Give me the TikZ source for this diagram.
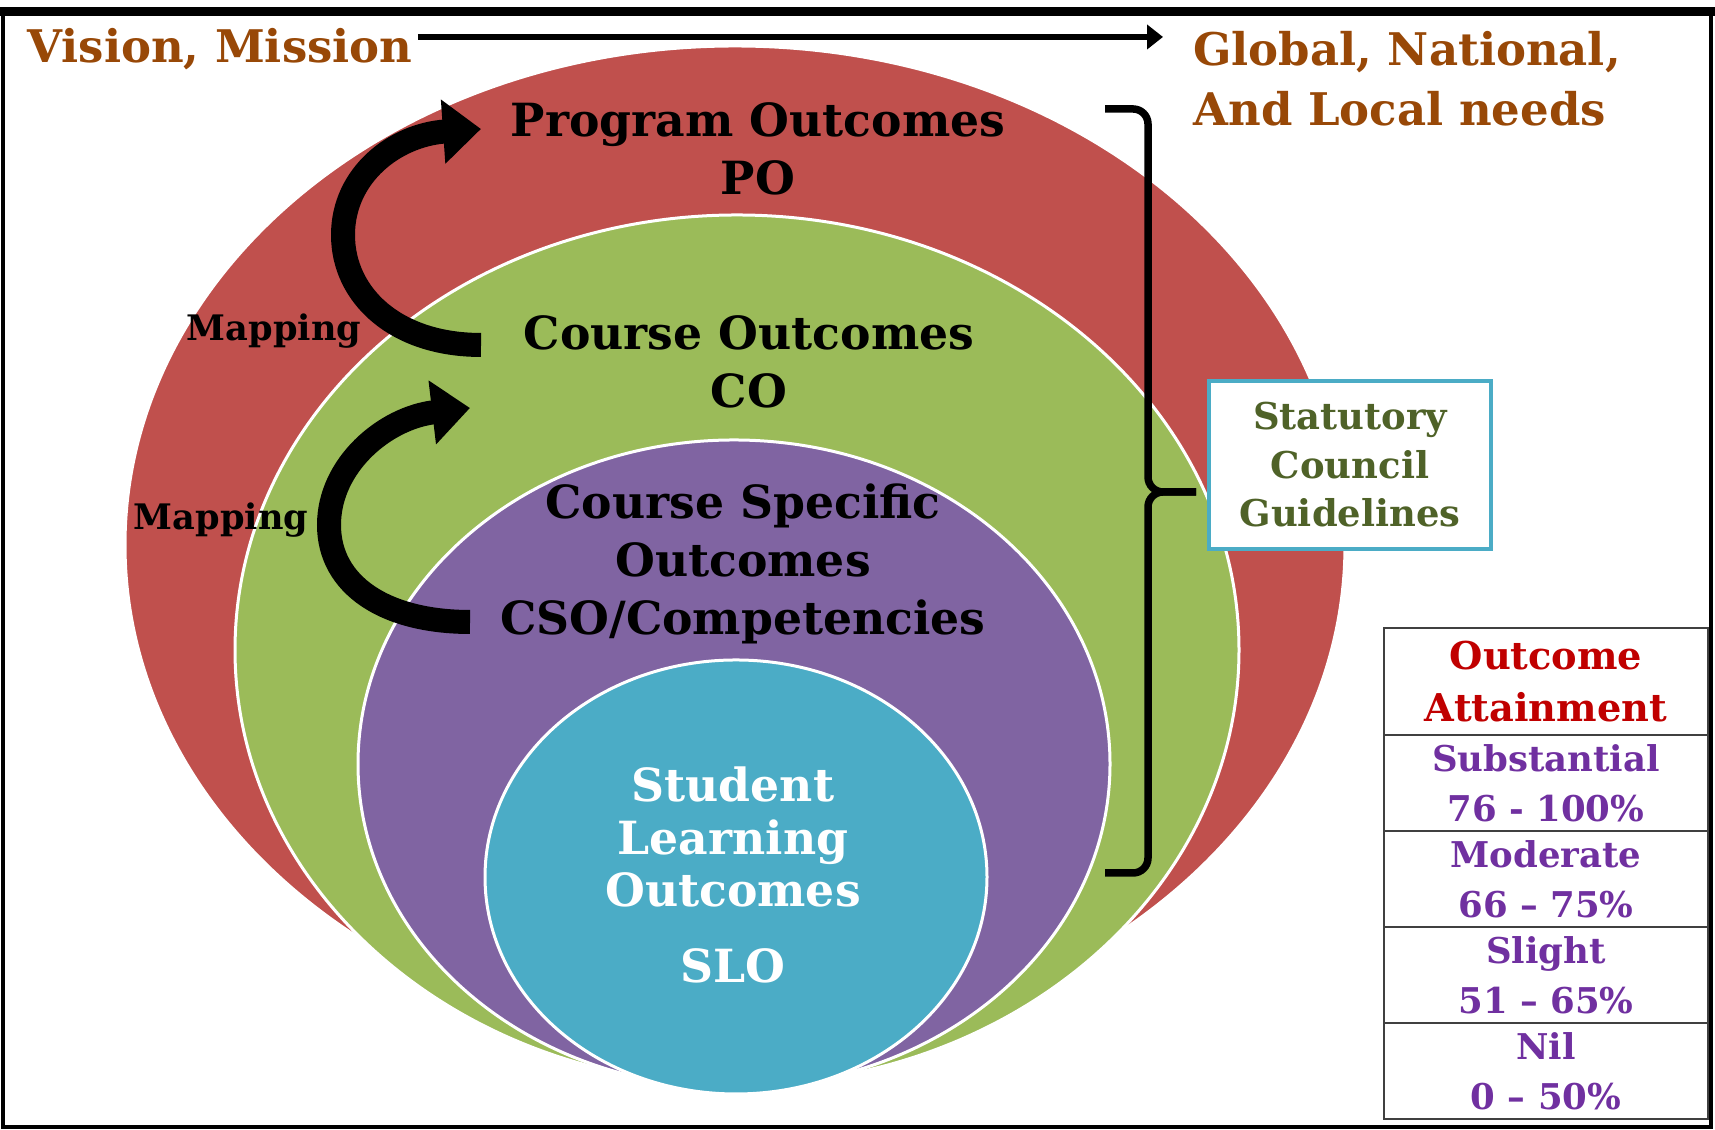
\documentclass[tikz,border=0pt]{standalone}
\usepackage{fontspec}
\setmainfont{DejaVu Serif}
\usetikzlibrary{arrows.meta,positioning}

\definecolor{rossoPO}{HTML}{C0504D}
\definecolor{verdeCO}{HTML}{9BBB59}
\definecolor{violaCSO}{HTML}{8064A2}
\definecolor{azzurroSLO}{HTML}{4BACC6}
\definecolor{marrone}{HTML}{984807}
\definecolor{oliva}{HTML}{4F6228}
\definecolor{rossoscuro}{HTML}{C00000}
\definecolor{violatesto}{HTML}{7030A0}

\begin{document}
\begin{tikzpicture}[>={Triangle[length=1.6mm,width=2.4mm]},
    anello/.style={draw=white, line width=0.3mm},
    titolo/.style={font=\bfseries\fontsize{13}{16.5}\selectfont, align=center},
    bordo/.style={text=marrone, font=\bfseries\fontsize{12.8}{17}\selectfont},
    mappa/.style={font=\bfseries\fontsize{10}{11}\selectfont},
    freccia/.style={line width=2.4mm, -{Triangle[length=3.8mm,width=6.2mm]}},
    graffa/.style={line width=0.75mm, rounded corners=1.5mm},
    cella/.style={draw=black!75, line width=0.2mm, outer sep=0pt, inner sep=0pt,
      minimum width=3.24cm, minimum height=0.96cm, align=center,
      text=violatesto, font=\bfseries\fontsize{10.1}{14.3}\selectfont}]

    % --- Impostazioni ---
    \useasboundingbox (0,0) rectangle (17.15,11.30);

    % --- Ellissi annidate ---
    \filldraw[anello, fill=rossoPO]    (7.35,5.85) ellipse (6.10 and 4.99);
    \filldraw[anello, fill=verdeCO]    (7.37,4.80) ellipse (5.02 and 4.35);
    \filldraw[anello, fill=violaCSO]   (7.34,3.66) ellipse (3.76 and 3.24);
    \filldraw[anello, fill=azzurroSLO] (7.36,2.53) ellipse (2.51 and 2.17);

    % --- Testi delle ellissi ---
    \node[titolo] (po)  at (7.58,9.81) {Program Outcomes\\PO};
    \node[titolo] (co)  at (7.49,7.68) {Course Outcomes\\CO};
    \node[titolo] (cso) at (7.43,5.66) {Course Specific\\Outcomes\\CSO/Competencies};
    \node[titolo, text=white, font=\bfseries\fontsize{13}{15}\selectfont] (slo) at (7.33,2.55)
          {Student\\Learning\\Outcomes\\[2.3mm]SLO};

    % --- Frecce di mapping ---
    \node[mappa] (map1) at (2.74,7.99) {Mapping};
    \node[mappa] (map2) at (2.21,6.10) {Mapping};
    \coordinate (m1coda)  at (4.81,7.85);
    \coordinate (m1punta) at (4.81,10.01);
    \coordinate (m2coda)  at (4.70,5.08);
    \coordinate (m2punta) at (4.70,7.22);
    \draw[freccia] (m1coda) .. controls (3.95,7.85) and (3.43,8.35) .. (3.43,8.95)
                            .. controls (3.43,9.55) and (3.95,9.95) .. (m1punta);
    \draw[freccia] (m2coda) .. controls (3.85,5.08) and (3.29,5.45) .. (3.29,6.05)
                            .. controls (3.29,6.65) and (3.85,7.12) .. (m2punta);

    % --- Vision e bisogni ---
    \node[bordo] (vision) at (2.20,10.81) {Vision, Mission};
    \node[bordo, anchor=west, align=left] (global) at (11.81,10.51) {Global, National,\\And Local needs};
    \coordinate (vm) at ([xshift=-0.7mm,yshift=1.2mm]vision.east);
    \draw[->, line width=0.6mm, shorten >=1.8mm] (vm) -- (vm -| global.west);

    % --- Linee guida ---
    \node[draw=azzurroSLO, line width=0.4mm, fill=white, minimum width=2.82cm, minimum height=1.68cm,
          align=center, text=oliva, font=\bfseries\fontsize{10.5}{13.8}\selectfont] (stat) at (13.50,6.65)
          {Statutory\\Council\\Guidelines};
    \coordinate (punta) at ([xshift=-1.1mm,yshift=-2.7mm]stat.west);
    \draw[graffa] (11.05,10.21) -| (11.48,6.38) -- (punta);
    \draw[graffa] (punta) -- (11.48,6.38) |- (11.05,2.57);

    % --- Tabella dei livelli ---
    \node[cella, minimum height=1.07cm, text=rossoscuro, font=\bfseries\fontsize{10.9}{15}\selectfont,
          anchor=north] (att) at (15.46,5.02) {Outcome\\Attainment};
    \node[cella, below=0pt of att] (sost) {Substantial\\76 - 100\%};
    \node[cella, below=0pt of sost] (mod) {Moderate\\66 – 75\%};
    \node[cella, below=0pt of mod] (lieve) {Slight\\51 – 65\%};
    \node[cella, below=0pt of lieve] (nullo) {Nil\\0 – 50\%};

    % --- Cornice ---
    \draw[line width=0.4mm] (0.03,0.03) rectangle (17.11,11.19);
    \draw[line width=0.9mm] (0,11.185) -- (17.15,11.185);
\end{tikzpicture}
\end{document}
